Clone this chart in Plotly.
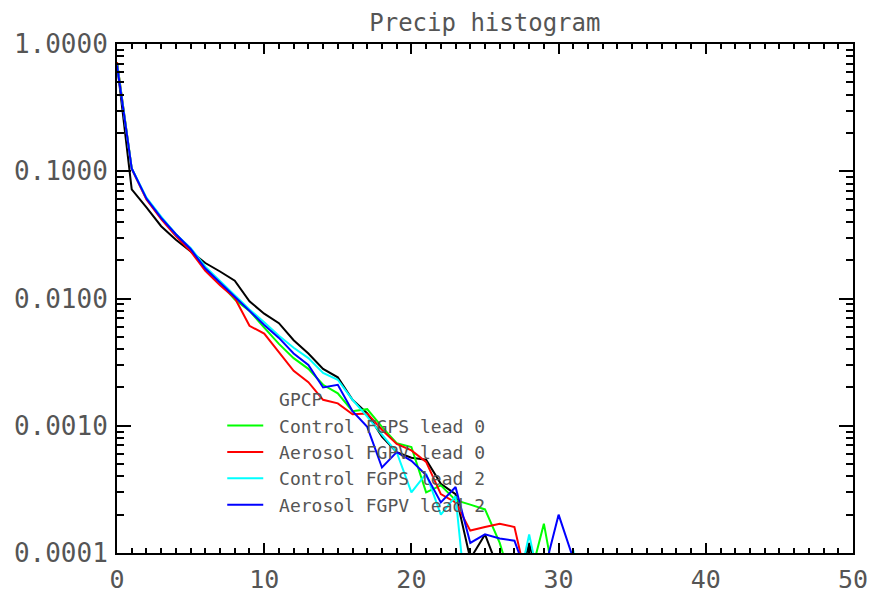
import plotly.graph_objects as go

# ---- data ----
precip_bins = list(range(0, 33))

gpcp = [0.70, 0.072, 0.052, 0.037, 0.029, 0.0235, 0.019, 0.0163, 0.0138, 0.0095,
        0.0076, 0.0064, 0.0047, 0.0037, 0.0028, 0.0024, 0.0016, 0.00125, 0.00082, 0.00062,
        0.00056, 0.00054, 0.00035, 0.00029, 0.00009, 0.00014, 0.00007, 0.00004, 0.00012, 0.00004,
        0.00002, 0.00002, 0.00002]

control_lead0 = [0.72, 0.105, 0.061, 0.043, 0.032, 0.0245, 0.0175, 0.0133, 0.0098, 0.0080,
                 0.0059, 0.0044, 0.0034, 0.0028, 0.0021, 0.0018, 0.0013, 0.00135, 0.00098, 0.00073,
                 0.00068, 0.00030, 0.00034, 0.00026, 0.00024, 0.00022, 0.00012, 0.00005, 0.00006, 0.00017,
                 0.00004, 0.00002, 0.00002]

aerosol_lead0 = [0.72, 0.104, 0.060, 0.042, 0.031, 0.0235, 0.0165, 0.0127, 0.0101, 0.0061,
                 0.0053, 0.0038, 0.0027, 0.0022, 0.0016, 0.0015, 0.00123, 0.00125, 0.00093, 0.00072,
                 0.00064, 0.00052, 0.00029, 0.00025, 0.00015, 0.00016, 0.00017, 0.00016, 0.00005, 0.00002,
                 0.00002, 0.00002, 0.00002]

control_lead2 = [0.70, 0.105, 0.062, 0.044, 0.032, 0.025, 0.0178, 0.0138, 0.0107, 0.0082,
                 0.0065, 0.0051, 0.0041, 0.0034, 0.0026, 0.0023, 0.0016, 0.00118, 0.00085, 0.00062,
                 0.00030, 0.00042, 0.00020, 0.00028, 0.00002, 0.00002, 0.00002, 0.00004, 0.00014, 0.00004,
                 0.00004, 0.000105, 0.00002]

aerosol_lead2 = [0.68, 0.105, 0.061, 0.043, 0.032, 0.0245, 0.0172, 0.0133, 0.0104, 0.0079,
                 0.0062, 0.0049, 0.0037, 0.0030, 0.0020, 0.0021, 0.0013, 0.00098, 0.00047, 0.00062,
                 0.00053, 0.00041, 0.00025, 0.00033, 0.00012, 0.00014, 0.00013, 0.000125, 0.00006, 0.00007,
                 0.00020, 0.00009, 0.00002]

series_names = ["GPCP", "Control FGPS lead 0", "Aerosol FGPV lead 0",
                "Control FGPS lead 2", "Aerosol FGPV lead 2"]
series_values = [gpcp, control_lead0, aerosol_lead0, control_lead2, aerosol_lead2]
series_colors = ["#000000", "#00ff00", "#ff0000", "#00ffff", "#0000ff"]

x_ticks = [0, 10, 20, 30, 40, 50]

FONT = "DejaVu Sans Mono"
TXT = "#555555"
PAD = "\u00a0"  # small gap between legend line sample and label

fig = go.Figure()

for i, (name, vals, col) in enumerate(zip(series_names, series_values, series_colors)):
    if i == 0:
        # GPCP data line (legend entry shown without a line sample, as in the reference)
        fig.add_trace(go.Scatter(x=precip_bins, y=vals, mode="lines", name=name,
                                 line=dict(color=col, width=2), showlegend=False))
        fig.add_trace(go.Scatter(x=[None], y=[None], mode="lines", name=PAD + name,
                                 line=dict(color="rgba(0,0,0,0)", width=2)))
    else:
        fig.add_trace(go.Scatter(x=precip_bins, y=vals, mode="lines", name=PAD + name,
                                 line=dict(color=col, width=2)))

minor_y = [m * 10 ** e for e in range(-4, 0) for m in range(2, 10)]

# the page body adds an 8px offset, so the figure is sized 8px smaller
fig.update_layout(
    width=867, height=592,
    margin=dict(l=109, r=22, t=36, b=47),
    paper_bgcolor="white", plot_bgcolor="white",
    title=dict(text="Precip histogram", x=0.550, xanchor="center", y=0.975, yanchor="middle",
               font=dict(family=FONT, size=24, color=TXT)),
    font=dict(family=FONT, color=TXT),
    legend=dict(x=0.143, y=0.338, xanchor="left", yanchor="top",
                bgcolor="rgba(0,0,0,0)", borderwidth=0,
                font=dict(family=FONT, size=18, color=TXT),
                tracegroupgap=0, itemwidth=36),
    xaxis=dict(range=[0, 50], tickvals=x_ticks, ticks="inside", ticklen=10, tickwidth=1.5,
               tickcolor="black", showline=True, linecolor="black", linewidth=2,
               mirror="allticks", showgrid=False, zeroline=False, automargin=False,
               ticklabelstandoff=3,
               tickfont=dict(family=FONT, size=25, color=TXT),
               minor=dict(dtick=1, ticks="inside", ticklen=5, tickwidth=1.5, tickcolor="black",
                          showgrid=False)),
    yaxis=dict(type="log", range=[-4, 0], dtick=1, tickformat=".4f", ticks="inside",
               ticklen=14, tickwidth=1.5, tickcolor="black", showline=True, linecolor="black",
               linewidth=2, mirror="allticks", showgrid=False, zeroline=False, automargin=False,
               ticklabelstandoff=2,
               tickfont=dict(family=FONT, size=26, color=TXT),
               minor=dict(tickvals=minor_y, ticks="inside", ticklen=7, tickwidth=1.5,
                          tickcolor="black", showgrid=False)),
)

fig.write_html("out.html")
